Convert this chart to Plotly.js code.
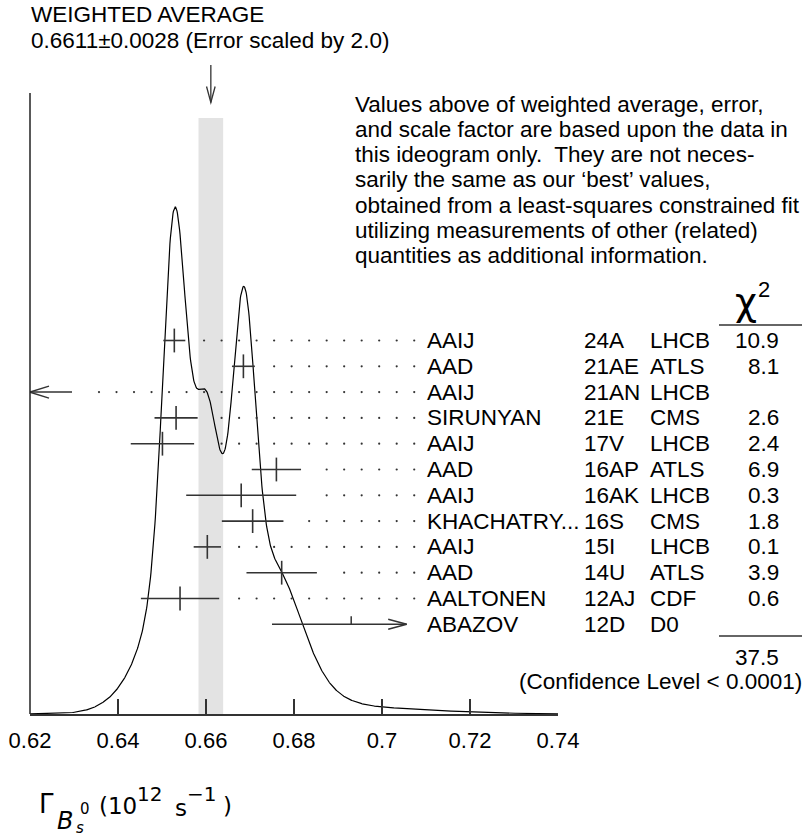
<!DOCTYPE html>
<html><head><meta charset="utf-8">
<script src="https://cdn.plot.ly/plotly-3.0.1.min.js"></script>
<style>html,body{margin:0;padding:0;background:#fff}</style>
</head><body><div id="chart" style="width:803px;height:838px"></div>
<script>
// ---------------- data ----------------
const authors     = ["AAIJ","AAD","AAIJ","SIRUNYAN","AAIJ","AAD","AAIJ","KHACHATRY...","AAIJ","AAD","AALTONEN","ABAZOV"];
const refCodes    = ["24A","21AE","21AN","21E","17V","16AP","16AK","16S","15I","14U","12AJ","12D"];
const experiments = ["LHCB","ATLS","LHCB","CMS","LHCB","ATLS","LHCB","CMS","LHCB","ATLS","CDF","D0"];
const chi2Text    = ["10.9","8.1","","2.6","2.4","6.9","0.3","1.8","0.1","3.9","0.6",""];
const values      = [0.6528,0.6685,null,0.6532,0.6501,0.6760,0.6680,0.6706,0.6603,0.6772,0.6541,0.6930];
const errors      = [0.0025,0.0026,null,0.0049,0.0072,0.0056,0.0125,0.0070,0.0031,0.0080,0.0089,0.0180];
const offScaleLeft= [false,false,true,false,false,false,false,false,false,false,false,false];
const avgValue = 0.6611;
const avgError = 0.0028;
const scaleFactor = 2.0;
const chi2Total = "37.5";
const confLevelText = "(Confidence Level < 0.0001)";
const xTickVals = [0.62,0.64,0.66,0.68,0.70,0.72,0.74];
const xTickText = ["0.62","0.64","0.66","0.68","0.7","0.72","0.74"];
const noteLines = [
  "Values above of weighted average, error,",
  "and scale factor are based upon the data in",
  "this ideogram only.  They are not neces-",
  "sarily the same as our \u2018best\u2019 values,",
  "obtained from a least-squares constrained fit",
  "utilizing measurements of other (related)",
  "quantities as additional information."
];

// ---------------- layout geometry ----------------
const W = 803, H = 838, ML = 30, MR = 245, MT = 0, MB = 124;
const PW = W - ML - MR, PH = H - MT - MB;          // 528 x 714
const XMIN = 0.62, XMAX = 0.74;
const pxPerX = PW / (XMAX - XMIN);
const ROW_PX = 25.8, ROW0_PX = 340.5;
const y2Top = ROW0_PX / ROW_PX, y2Bot = y2Top - PH / ROW_PX;
const PEAK_PX = 207;
const yTop = PH / (PH - PEAK_PX);
const CUT_X = XMIN + (406.7 - ML) / pxPerX;       // right limit of drawn bars
const dx = p => p / pxPerX;
const dr = p => p / ROW_PX;
const paperX = px => (px - ML) / PW;
const paperY = py => (MT + PH - py) / PH;
const FONT = "Liberation Sans, Arial, sans-serif";
const FS = 22.5;
const PAD = 3;
const BAR = "#333";

// ---------------- ideogram curve ----------------
const curveX = [], curveY = [];
for (let k = 0; k <= 1200; k++) {
  const x = XMIN + (XMAX - XMIN) * k / 1200;
  let s = 0;
  values.forEach((v, i) => {
    if (v === null) return;
    const e = errors[i], z = (x - v) / e;
    s += Math.exp(-0.5 * z * z) / (e * e);
  });
  curveX.push(x); curveY.push(s);
}
const cmax = Math.max(...curveY);
const curveYn = curveY.map(v => v / cmax);

const traces = [];
traces.push({x: curveX, y: curveYn, type: "scatter", mode: "lines",
  line: {color: "#000", width: 1.2}, hoverinfo: "skip", yaxis: "y"});

// ---------------- error bars ----------------
const ebX = [], ebY = [], ebE = [];
const clipLX = [], clipLY = [];
const dotX = [], dotY = [];
const GRID0 = XMIN + (99 - ML) / pxPerX, GRID_STEP = 0.00398;
values.forEach((v, i) => {
  const r = -i;
  let endX;
  if (offScaleLeft[i]) {
    const tail = XMIN + dx(42);
    clipLX.push(XMIN, tail, null, XMIN + dx(19), XMIN, XMIN + dx(19), null);
    clipLY.push(r, r, null, r + dr(6), r, r - dr(6), null);
    endX = tail;
  } else if (v + errors[i] > CUT_X) {
    clipLX.push(v - errors[i], CUT_X, null, CUT_X - dx(18.5), CUT_X, CUT_X - dx(18.5), null, v, v, null);
    clipLY.push(r, r, null, r + dr(5), r, r - dr(5), null, r, r + dr(8), null);
    endX = null;
  } else {
    ebX.push(v); ebY.push(r); ebE.push(errors[i]);
    endX = v + errors[i];
  }
  if (endX !== null) {
    for (let g = GRID0; g < CUT_X + dx(9); g += GRID_STEP) {
      if (g - endX >= dx(17)) { dotX.push(g); dotY.push(r); }
    }
  }
});
traces.push({x: dotX, y: dotY, type: "scatter", mode: "markers", yaxis: "y2",
  marker: {symbol: "circle", size: 2.2, color: "#333"}, hoverinfo: "skip"});
traces.push({x: ebX, y: ebY, type: "scatter", mode: "markers", yaxis: "y2",
  error_x: {type: "data", array: ebE, color: BAR, thickness: 1.6, width: 0},
  marker: {symbol: "line-ns-open", size: 17, color: BAR, line: {width: 1.6, color: BAR}},
  hoverinfo: "skip"});
traces.push({x: clipLX, y: clipLY, type: "scatter", mode: "lines", yaxis: "y2",
  line: {color: BAR, width: 1.5}, connectgaps: false, hoverinfo: "skip"});

// ---------------- annotations ----------------
const ann = [];
const txt = (text, px, py, xa, size, family) => ({
  text: text, xref: "paper", yref: "paper",
  x: paperX(xa === "left" ? px - PAD : xa === "right" ? px + PAD : px), y: paperY(py),
  xanchor: xa, yanchor: "middle", showarrow: false,
  font: {family: family || FONT, size: size || FS, color: "#000"}});

ann.push(txt("WEIGHTED AVERAGE", 32, 14, "left"));
ann.push(txt(avgValue.toFixed(4) + "\u00b1" + avgError.toFixed(4) +
  " (Error scaled by " + scaleFactor.toFixed(1) + ")", 32, 40, "left"));
noteLines.forEach((t, k) => ann.push(txt(t, 356, 104 + 25.3 * k, "left")));

authors.forEach((a, i) => {
  const rowPy = ROW0_PX + ROW_PX * i;
  const rowY = {yref: "y2", y: -i};
  ann.push(Object.assign(txt(a, 428, rowPy, "left"), rowY));
  ann.push(Object.assign(txt(refCodes[i], 585, rowPy, "left"), rowY));
  ann.push(Object.assign(txt(experiments[i], 651, rowPy, "left"), rowY));
  if (chi2Text[i]) ann.push(Object.assign(txt(chi2Text[i], 778, rowPy, "right"), rowY));
});
ann.push(txt("\u03c7", 746, 302, "center", 38, "DejaVu Sans, sans-serif"));
ann.push(txt("2", 764, 289, "center", 22, FONT));
ann.push(txt(chi2Total, 778, 657, "right"));
ann.push(txt(confLevelText, 801, 681, "right"));

// axis title pieces
const DJ = "DejaVu Sans, sans-serif";
ann.push(txt("\u0393", 40, 804, "left", 26, DJ));
ann.push(txt("<i>B</i>", 58, 821, "left", 24, DJ));
ann.push(txt("0", 81, 809, "left", 15, DJ));
ann.push(txt("<i>s</i>", 77, 828, "left", 15, DJ));
ann.push(txt("(10", 100, 806, "left", 23, DJ));
ann.push(txt("12", 138, 794, "left", 20, DJ));
ann.push(txt("s", 176, 808, "left", 23, DJ));
ann.push(txt("\u22121", 188, 794, "left", 20, DJ));
ann.push(txt(")", 224, 806, "left", 23, DJ));

// ---------------- shapes ----------------
const shapes = [
  {type: "rect", xref: "x", yref: "paper", x0: avgValue - avgError, x1: avgValue + avgError,
   y0: 0, y1: paperY(118), fillcolor: "#e3e3e3", line: {width: 0}, layer: "below"},
  {type: "line", xref: "paper", yref: "paper", x0: 0, x1: 0, y0: 0, y1: paperY(93),
   line: {color: "#222", width: 1.5}},
  {type: "line", xref: "x", yref: "paper", x0: avgValue, x1: avgValue, y0: paperY(65), y1: paperY(102.5),
   line: {color: "#333", width: 1.3}},
  {type: "path", xref: "x", yref: "paper",
   path: "M" + (avgValue - dx(4.3)) + "," + paperY(86.5) + " L" + avgValue + "," + paperY(102.5) +
         " L" + (avgValue + dx(4.3)) + "," + paperY(86.5),
   line: {color: "#333", width: 1.3}},
  {type: "line", xref: "paper", yref: "paper", x0: paperX(719), x1: paperX(802), y0: paperY(325), y1: paperY(325),
   line: {color: "#333", width: 1.3}},
  {type: "line", xref: "paper", yref: "paper", x0: paperX(719), x1: paperX(802), y0: paperY(636), y1: paperY(636),
   line: {color: "#333", width: 1.3}}
];

const layout = {
  width: W, height: H, margin: {l: ML, r: MR, t: MT, b: MB},
  paper_bgcolor: "#fff", plot_bgcolor: "rgba(0,0,0,0)", showlegend: false,
  font: {family: FONT, color: "#000"},
  xaxis: {range: [XMIN, XMAX], tickvals: xTickVals, ticktext: xTickText, ticks: "inside",
    ticklen: 15, tickwidth: 1.2, tickcolor: "#333", showline: true, linecolor: "#333",
    linewidth: 1.5, showgrid: false, zeroline: false, ticklabelstandoff: 6,
    tickfont: {family: FONT, size: 22, color: "#000"}, fixedrange: true},
  yaxis: {range: [0, yTop], visible: false, fixedrange: true},
  yaxis2: {range: [y2Bot, y2Top], overlaying: "y", visible: false, fixedrange: true},
  annotations: ann, shapes: shapes
};
Plotly.newPlot("chart", traces, layout, {staticPlot: true, displayModeBar: false});
</script></body></html>
